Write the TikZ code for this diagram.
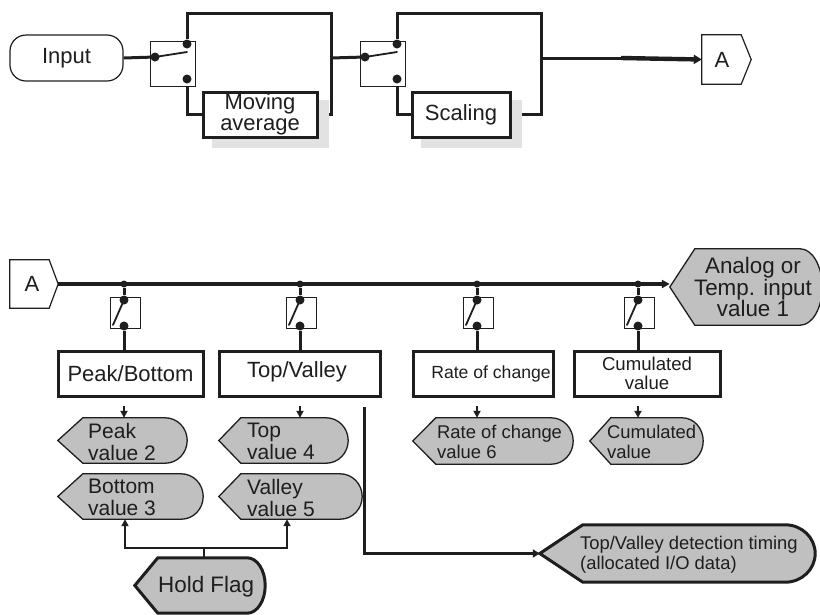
\documentclass[tikz,border=0pt]{standalone}
\usepackage{fontspec}
\setmainfont{Liberation Sans}
\usetikzlibrary{arrows.meta,calc}
\definecolor{ink}{HTML}{1E1E1E}
\definecolor{valfill}{HTML}{C0C0C0}
\definecolor{shadowgray}{HTML}{E2E2E2}
\pgfdeclarelayer{wires}
\pgfdeclarelayer{shades}
\pgfsetlayers{wires,shades,main}

% display-type outline: pointed left end, rounded right end
% #1 extra style, #2 frame node, #3 depth of the point, #4 radius of the round end
\newcommand\dispshape[4][]{%
  \draw[vshape,#1] let \p1=($(#2.north)-(#2.south)$) in
    (#2.west) -- ($(#2.north west)+(#3,0)$) -- ($(#2.north east)+(-#4,0)$)
    arc[start angle=90,end angle=-90,x radius=#4pt,y radius=0.5*\y1]
    -- ($(#2.south west)+(#3,0)$) -- cycle;}

\begin{document}
\begin{tikzpicture}[x=1pt,y=-1pt,
  wire/.style={draw=ink,line width=3pt},
  bus/.style={draw=ink,line width=3.4pt},
  thin wire/.style={draw=ink,line width=2.2pt},
  lever/.style={draw=ink,line width=1.8pt,line cap=round},
  tip/.style={-{Triangle[length=7pt,width=7pt]}},
  swbox/.style={draw=ink,line width=0.9pt,fill=white,inner sep=0pt,minimum width=45pt,minimum height=45pt},
  smallsw/.style={draw=ink,line width=0.9pt,fill=white,inner sep=0pt,minimum width=30pt,minimum height=31pt},
  dot/.style={circle,fill=ink,inner sep=0pt,minimum size=9pt},
  tapdot/.style={circle,fill=ink,inner sep=0pt,minimum size=7pt},
  procbox/.style={draw=ink,line width=3pt,fill=white,inner sep=0pt,minimum height=45pt,
    align=center,text=ink,font=\fontsize{22}{20.5}\selectfont},
  inbox/.style={draw=ink,line width=1.2pt,rounded corners=16pt,inner sep=0pt,
    minimum width=113pt,minimum height=46pt,text=ink,font=\fontsize{22}{22}\selectfont},
  frame/.style={inner sep=0pt,draw=none},
  vshape/.style={draw=ink,fill=valfill,line width=1.3pt,line join=miter},
  heavy/.style={line width=3pt},
  vtext/.style={anchor=west,align=left,inner sep=0pt,text=ink,font=\fontsize{21}{22}\selectfont},
  stext/.style={anchor=west,align=left,inner sep=0pt,text=ink,font=\fontsize{18.4}{20}\selectfont},
  label/.style={inner sep=0pt,text=ink,font=\fontsize{22}{22}\selectfont}]
\useasboundingbox (0,0) rectangle (820,614);

%% ===== input stage =====
\node[inbox] (in) at (66.5,58) {Input};

% switch 1
\node[swbox] (sw1) at (172.5,63.5) {};
\node[dot] (s1a) at (155,57) {};
\node[dot] (s1b) at (187,44) {};
\node[dot] (s1c) at (187,79) {};
\coordinate (s1l) at (187,52);
\draw[lever] (s1a.center) -- (s1l);

% moving average block
\coordinate (j1) at (331,58);
\coordinate (j1t) at (331,13);
\coordinate (j1b) at (331,114.5);
\node[procbox,minimum width=114pt] (ma) at (260,114.5) {Moving\\average};

% switch 2
\node[swbox] (sw2) at (382.5,63.5) {};
\node[dot] (s2a) at (365,57) {};
\node[dot] (s2b) at (397,44) {};
\node[dot] (s2c) at (397,79) {};
\coordinate (s2l) at (397,52);
\draw[lever] (s2a.center) -- (s2l);

% scaling block
\coordinate (j2) at (541,58);
\coordinate (j2t) at (541,13);
\coordinate (j2b) at (541,114.5);
\coordinate (thk) at (621,58);
\node[procbox,minimum width=98pt] (sc) at (461,114.5) {Scaling};

% connector A (out)
\node[frame,minimum width=49pt,minimum height=49pt] (aout) at (726.5,59.5) {};
\draw[draw=ink,line width=1.2pt,fill=white] (aout.north west) -- ($(aout.north east)+(-10,0)$)
  -- (aout.east) -- ($(aout.south east)+(-10,0)$) -- (aout.south west) -- cycle;
\node[label] (aoutt) at (722,59.5) {A};

\begin{pgfonlayer}{wires}
  \draw[wire] (in.east) -- (s1a);
  \draw[wire] (s1b) |- (j1t) -- (j1b) -- (ma.east);
  \draw[wire] (s1c) |- (ma.west);
  \draw[wire] (j1) -- (s2a);
  \draw[wire] (s2b) |- (j2t) -- (j2b) -- (sc.east);
  \draw[wire] (s2c) |- (sc.west);
  \draw[wire] (j2) -- (thk);
  \draw[draw=ink,line width=4.4pt,-{Triangle[length=8pt,width=9pt]}] (thk) -- (aout.west);
\end{pgfonlayer}
\begin{pgfonlayer}{shades}
  \fill[shadowgray] ($(ma.north west)+(10,9)$) rectangle ($(ma.south east)+(10,9)$);
  \fill[shadowgray] ($(sc.north west)+(10,9)$) rectangle ($(sc.south east)+(10,9)$);
\end{pgfonlayer}

%% ===== processing stage =====
% connector A (in)
\node[frame,minimum width=48pt,minimum height=48pt] (ain) at (34,284) {};
\draw[draw=ink,line width=1.2pt,fill=white] (ain.north west) -- ($(ain.north east)+(-9,0)$)
  -- (ain.east) -- ($(ain.south east)+(-9,0)$) -- (ain.south west) -- cycle;
\node[label] (aint) at (32,284) {A};

% analog / temperature input value
\node[frame,minimum width=152pt,minimum height=76pt] (an) at (746,287) {};
\dispshape{an}{25}{22}
\node[label,align=center,font=\fontsize{22.4}{21.7}\selectfont] (ant) at (753,287)
  {Analog or\\Temp. input\\value 1};

\draw[bus,-{Triangle[length=8pt,width=8pt]}] (ain.east) -- (ain.east -| an.west);

% taps with switches
\foreach \x/\n in {124/a,300/b,477/c,638/d}{
  \node[tapdot] (bd\n) at (\x,284) {};
  \node[smallsw] (sw\n) at (\x+1,312.5) {};
  \node[dot] (su\n) at (\x,300) {};
  \node[dot] (sl\n) at (\x,326) {};
  \coordinate (lv\n) at (\x-11,325);
  \draw[lever] (lv\n) -- (su\n.center);
  \draw[wire] (bd\n) -- (su\n);
  \coordinate (o\n) at (\x,406);
}

% processing blocks
\node[procbox,minimum width=145pt] (pb) at (130.5,373.5) {Peak/Bottom};
\node[procbox,minimum width=161pt] (tv) at (299.5,373.5) {};
\node[label] (tvt) at (297,371.5) {Top/Valley};
\node[procbox,minimum width=140pt] (rc) at (483,373.5) {};
\node[label,font=\fontsize{17.6}{18}\selectfont] (rct) at (491,373.5) {Rate of change};
\node[procbox,minimum width=146pt,font=\fontsize{18.6}{18.5}\selectfont] (cv) at (647,373.5) {Cumulated\\value};

\draw[wire] (sla) -- (sla |- pb.north);
\draw[wire] (slb) -- (slb |- tv.north);
\draw[wire] (slc) -- (slc |- rc.north);
\draw[wire] (sld) -- (sld |- cv.north);

% result values
\node[frame,minimum width=129pt,minimum height=45pt] (pk) at (122.5,440.5) {};
\dispshape{pk}{25}{22}
\node[vtext] (pkt) at (88,441.5) {Peak\\value 2};

\node[frame,minimum width=145pt,minimum height=45pt] (bt) at (130.5,496.5) {};
\dispshape{bt}{25}{22}
\node[vtext] (btt) at (88,497.5) {Bottom\\value 3};

\node[frame,minimum width=129pt,minimum height=45pt] (tp) at (283.5,440.5) {};
\dispshape{tp}{22}{22}
\node[vtext] (tpt) at (247,441.5) {Top\\value 4};

\node[frame,minimum width=143pt,minimum height=45pt] (vl) at (290.5,496.5) {};
\dispshape{vl}{22}{22}
\node[vtext] (vlt) at (247,497.5) {Valley\\value 5};

\node[frame,minimum width=160pt,minimum height=46pt] (rv) at (493,441) {};
\dispshape{rv}{23}{22}
\node[stext] (rvt) at (437,442) {Rate of change\\value 6};

\node[frame,minimum width=113pt,minimum height=46pt] (cu) at (646.5,441) {};
\dispshape{cu}{21}{21}
\node[stext] (cut) at (607,442) {Cumulated\\value};

\draw[wire,line width=2.4pt,tip] (oa) -- (oa |- pk.north);
\draw[wire,line width=2.4pt,tip] (ob) -- (ob |- tp.north);
\draw[wire,line width=2.4pt,tip] (oc) -- (oc |- rv.north);
\draw[wire,line width=2.4pt,tip] (od) -- (od |- cu.north);

% hold flag
\node[frame,minimum width=130pt,minimum height=55pt] (hf) at (200,585.5) {};
\dispshape[heavy]{hf}{23}{18}
\node[label,anchor=west,font=\fontsize{22.4}{22}\selectfont] (hft) at (158,587) {Hold Flag};
\coordinate (hfj) at (204,548);
\coordinate (hl) at (125,548);
\coordinate (hr) at (287,548);
\draw[thin wire] (hf.north -| hfj) -- (hfj);
\draw[thin wire,tip] (hfj) -- (hl) -- (hl |- bt.south);
\draw[thin wire,tip] (hfj) -- (hr) -- (hr |- vl.south);

% top/valley detection timing
\node[frame,minimum width=275pt,minimum height=57pt] (det) at (677.5,553.5) {};
\dispshape[heavy]{det}{43}{30}
\node[stext] (dett) at (580,554.5) {Top/Valley detection timing\\(allocated I/O data)};
\coordinate (tvo) at (364,407);
\draw[wire,-{Triangle[length=7pt,width=8pt]}] (tvo) |- (det.west);

\end{tikzpicture}
\end{document}
